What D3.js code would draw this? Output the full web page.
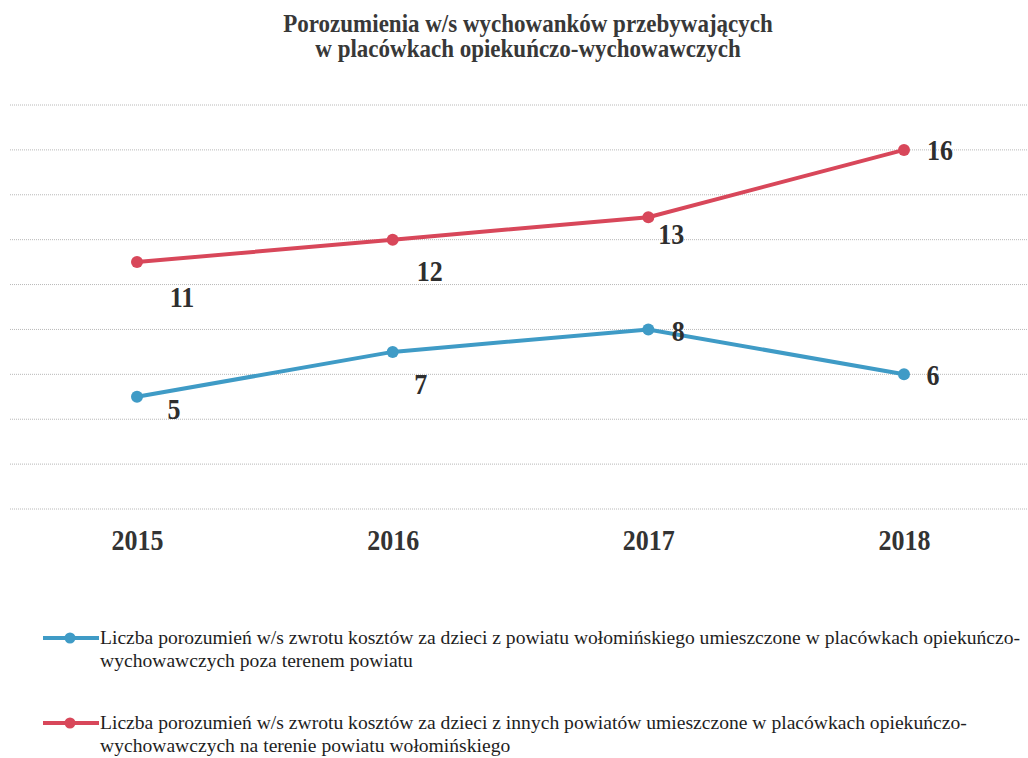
<!DOCTYPE html>
<html>
<head>
<meta charset="utf-8">
<script src="https://cdn.jsdelivr.net/npm/d3@7"></script>
<style>
  body { margin: 0; background: #fff; }
  svg { display: block; }
  svg text { font-family: "Liberation Serif", serif; }
</style>
</head>
<body>
<svg id="chart" width="1028" height="758"></svg>
<script>
// data
var years = ["2015", "2016", "2017", "2018"];
var outsideCounts = [5, 7, 8, 6];      // blue series
var insideCounts = [11, 12, 13, 16];   // red series
var yTicks = [0, 2, 4, 6, 8, 10, 12, 14, 16, 18];
var seriesNames = [
  ["Liczba porozumień w/s zwrotu kosztów za dzieci z powiatu wołomińskiego umieszczone w placówkach opiekuńczo-",
   "wychowawczych poza terenem powiatu"],
  ["Liczba porozumień w/s zwrotu kosztów za dzieci z innych powiatów umieszczone w placówkach opiekuńczo-",
   "wychowawczych na terenie powiatu wołomińskiego"]
];
var titleLines = ["Porozumienia w/s wychowanków przebywających", "w placówkach opiekuńczo-wychowawczych"];

var svg = d3.select("#chart");
var blue = "#3f9bc6";
var red = "#d8475a";
var stretch = "scale(1,1.15)"; // scanned text looks a bit taller than wide

var x = d3.scalePoint().domain(years).range([137, 904]);
var y = d3.scaleLinear().domain([0, 18]).range([509, 105]);

//title
svg.append("g").selectAll("text")
  .data(titleLines)
  .enter().append("text")
  .attr("transform", (d, i) => `translate(528,${32 + i * 25}) scale(1,1.05)`)
  .attr("text-anchor", "middle")
  .attr("font-weight", "bold")
  .attr("font-size", 23)
  .attr("fill", "#383838")
  .text(d => d);

//dotted grid
svg.append("g").selectAll("line")
  .data(yTicks)
  .enter().append("line")
  .attr("x1", 10).attr("x2", 1028)
  .attr("y1", d => y(d)).attr("y2", d => y(d))
  .attr("stroke", "#b8b8b8")
  .attr("stroke-width", 1)
  .attr("stroke-dasharray", "1,1");

//year labels via axis
var xAxis = svg.append("g")
  .attr("transform", "translate(0,550)")
  .call(d3.axisBottom(x).tickSize(0).tickPadding(0));
xAxis.select(".domain").remove();
xAxis.attr("font-family", null);
xAxis.selectAll("text")
  .attr("y", 0)
  .attr("dy", 0)
  .attr("transform", stretch)
  .attr("font-weight", "bold")
  .attr("font-size", 26)
  .attr("fill", "#333");

var line = d3.line()
  .x((d, i) => x(years[i]))
  .y(d => y(d));

// label offsets (dx, dy) from each point
var blueOffsets = [[37, 12], [28, 32], [30, 2], [29, 1]];
var redOffsets = [[45, 35], [37, 31], [23, 17], [36, 0]];

function drawSeries(values, color, offsets) {
  var g = svg.append("g");
  g.append("path")
    .datum(values)
    .attr("d", line)
    .attr("fill", "none")
    .attr("stroke", color)
    .attr("stroke-width", 4);
  g.selectAll("circle")
    .data(values)
    .enter().append("circle")
    .attr("cx", (d, i) => x(years[i]))
    .attr("cy", d => y(d))
    .attr("r", 6)
    .attr("fill", color);
  g.selectAll("text")
    .data(values)
    .enter().append("text")
    .attr("transform", (d, i) => `translate(${x(years[i]) + offsets[i][0]},${y(d) + offsets[i][1]}) ${stretch}`)
    .attr("dy", "0.33em")
    .attr("text-anchor", "middle")
    .attr("font-weight", "bold")
    .attr("font-size", 26)
    .attr("fill", "#2e2e2e")
    .text(d => d);
}

drawSeries(insideCounts, red, redOffsets);
drawSeries(outsideCounts, blue, blueOffsets);

//legend
var legendColors = [blue, red];
var legend = svg.append("g").selectAll("g")
  .data(seriesNames)
  .enter().append("g")
  .attr("transform", (d, i) => `translate(0,${638 + i * 85})`);

legend.append("line")
  .attr("x1", 43).attr("x2", 99)
  .attr("stroke", (d, i) => legendColors[i])
  .attr("stroke-width", 4);
legend.append("circle")
  .attr("cx", 70).attr("r", 5.5)
  .attr("fill", (d, i) => legendColors[i]);

var legendText = legend.append("text")
  .attr("font-size", 19.6)
  .attr("fill", "#1e1e1e");
legendText.selectAll("tspan")
  .data(d => d)
  .enter().append("tspan")
  .attr("x", 100)
  .attr("y", (d, i) => 6 + i * 23)
  .text(d => d);
</script>
</body>
</html>
